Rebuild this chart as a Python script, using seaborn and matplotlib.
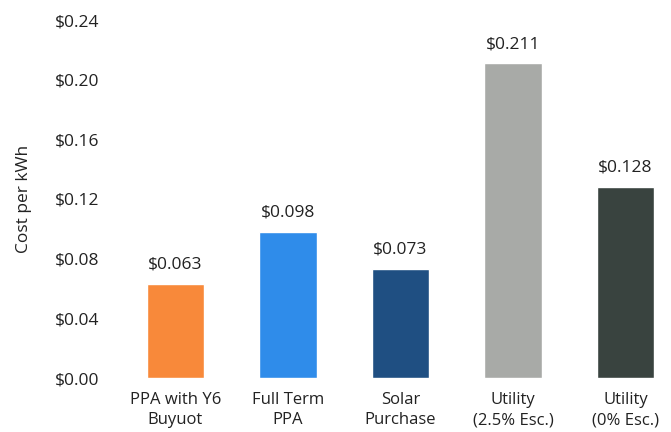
import matplotlib
matplotlib.use("Agg")
import matplotlib.pyplot as plt
import seaborn as sns
import pandas as pd

# data
options = ['PPA with Y6\nBuyuot', 'Full Term\nPPA', 'Solar\nPurchase',
           'Utility\n(2.5% Esc.)', 'Utility\n(0% Esc.)']
cost_per_kwh = [0.063, 0.098, 0.073, 0.211, 0.128]
bar_colors = ['#F8893A', '#2F8CEA', '#1F4F82', '#A8AAA7', '#39433F']
y_ticks = [0.00, 0.04, 0.08, 0.12, 0.16, 0.20, 0.24]

sns.set_theme(style='white')
plt.rcParams['font.family'] = ['Open Sans', 'DejaVu Sans']

df = pd.DataFrame({'option': options, 'cost': cost_per_kwh})

fig = plt.figure(figsize=(6.71, 4.32), dpi=100)
ax = fig.add_axes([110 / 671, 54 / 432, 555 / 671, 358 / 432])

sns.barplot(data=df, x='option', y='cost', hue='option', palette=bar_colors,
            width=0.51, legend=False, ax=ax, saturation=1)

for container, val in zip(ax.containers, cost_per_kwh):
    ax.bar_label(container, labels=[f'${val:.3f}'], padding=8,
                 fontsize=12.5, color='#222222')

ax.set_xlim(-0.58, 4.35)
ax.set_ylim(0, 0.24)
ax.set_yticks(y_ticks)
ax.set_yticklabels([f'${t:.2f}' for t in y_ticks], fontsize=12.5, color='#222222')
ax.tick_params(axis='y', pad=8, length=0)
ax.tick_params(axis='x', labelsize=12, labelcolor='#222222', pad=10, length=0)
for lbl in ax.get_xticklabels():
    lbl.set_linespacing(1.35)
ax.set_xlabel('')
ax.set_ylabel('Cost per kWh', fontsize=12.5, color='#222222', labelpad=16)
sns.despine(ax=ax, left=True, bottom=True)

fig.savefig('out.png', dpi=100)
plt.close(fig)
